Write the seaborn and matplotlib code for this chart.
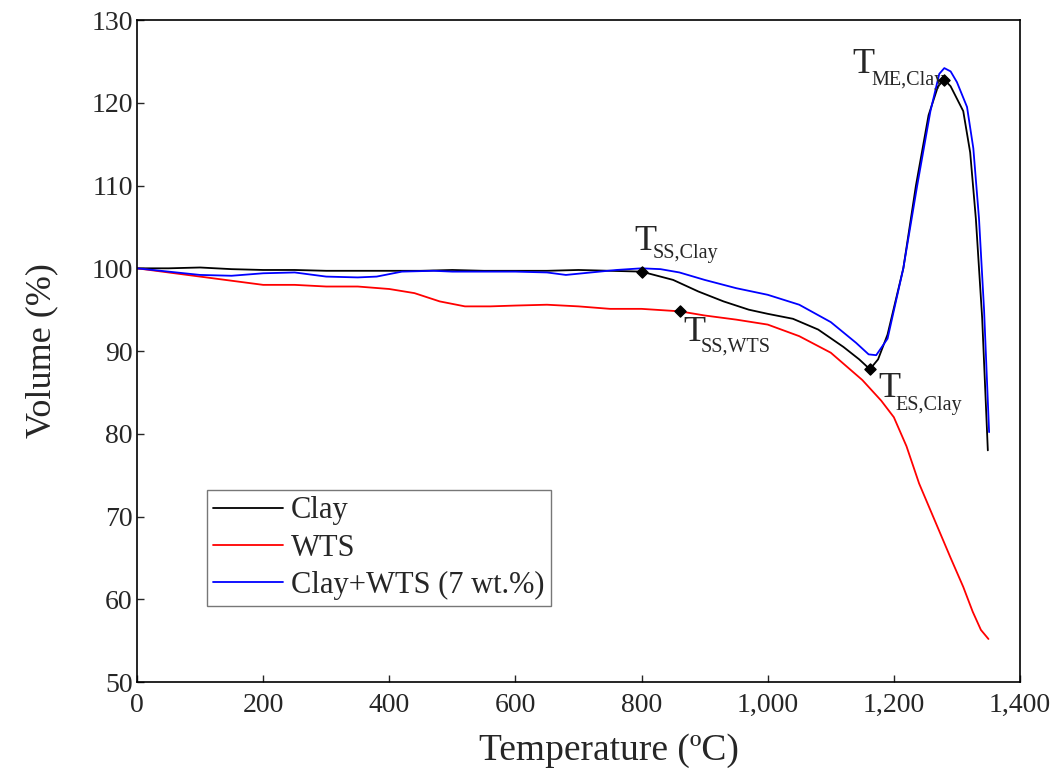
import matplotlib
matplotlib.use('Agg')
import matplotlib.pyplot as plt
import matplotlib.ticker as mticker
import pandas as pd
import seaborn as sns

# values
clay_T = [0, 50, 100, 150, 200, 250, 300, 350, 400, 450, 500, 550, 600, 650, 700, 750, 800,
          850, 890, 930, 970, 1000, 1040, 1080, 1120, 1145, 1162, 1175, 1190, 1215, 1235,
          1255, 1270, 1280, 1290, 1300, 1310, 1321, 1330, 1340, 1349]
clay_V = [100, 100, 100.1, 99.9, 99.8, 99.8, 99.7, 99.7, 99.7, 99.7, 99.8, 99.7, 99.7, 99.7,
          99.8, 99.7, 99.6, 98.6, 97.2, 96.0, 95.0, 94.5, 93.9, 92.6, 90.5, 89.0, 87.8, 89.0,
          92.0, 100.0, 110.0, 118.5, 122.0, 122.8, 122.0, 120.5, 119.0, 114.0, 106.0, 94.0, 78.0]

wts_T = [0, 50, 100, 150, 200, 250, 300, 350, 400, 440, 480, 520, 560, 600, 650, 700, 750,
         800, 861, 900, 950, 1000, 1050, 1100, 1150, 1180, 1200, 1220, 1240, 1265, 1290,
         1310, 1325, 1338, 1350]
wts_V = [100, 99.5, 99.0, 98.5, 98.0, 98.0, 97.8, 97.8, 97.5, 97.0, 96.0, 95.4, 95.4, 95.5,
         95.6, 95.4, 95.1, 95.1, 94.8, 94.3, 93.8, 93.2, 91.8, 89.8, 86.5, 84.0, 82.0, 78.5,
         74.0, 69.5, 65.0, 61.5, 58.5, 56.3, 55.2]

mix_T = [0, 50, 100, 150, 200, 250, 300, 350, 380, 420, 470, 500, 550, 600, 650, 680, 720,
         760, 800, 830, 860, 900, 950, 1000, 1050, 1100, 1140, 1160, 1172, 1190, 1215, 1237,
         1258, 1272, 1280, 1290, 1300, 1316, 1326, 1335, 1343, 1351]
mix_V = [100, 99.6, 99.2, 99.1, 99.4, 99.5, 99.0, 98.9, 99.0, 99.6, 99.7, 99.6, 99.6, 99.6,
         99.5, 99.2, 99.5, 99.8, 100.0, 99.9, 99.5, 98.6, 97.6, 96.8, 95.6, 93.5, 91.0, 89.6,
         89.5, 91.5, 100.0, 110.0, 119.0, 123.5, 124.2, 123.8, 122.5, 119.5, 114.5, 106.0,
         95.0, 80.2]

series_names = ['Clay', 'WTS', 'Clay+WTS (7 wt.%)']

pt_T = [800, 861, 1162, 1280]
pt_V = [99.6, 94.8, 87.8, 122.8]
pt_subs = ['SS,Clay', 'SS,WTS', 'ES,Clay', 'ME,Clay']
# label offsets (data units) for the "T" and for its subscript
t_off = [(-11, 2.6), (5, -3.6), (13, -3.4), (-146, 0.8)]
s_off = [(17, 1.6), (33, -4.9), (41, -4.9), (-115, -0.7)]

df = pd.concat([
    pd.DataFrame({'T': clay_T, 'V': clay_V, 'name': series_names[0]}),
    pd.DataFrame({'T': wts_T, 'V': wts_V, 'name': series_names[1]}),
    pd.DataFrame({'T': mix_T, 'V': mix_V, 'name': series_names[2]}),
])

sns.set_style('white')
plt.rcParams['font.family'] = ['Liberation Serif', 'DejaVu Serif']

fig = plt.figure(figsize=(10.57, 7.73), dpi=100)
ax = fig.add_axes([0.1296, 0.1177, 0.8354, 0.8563])

sns.lineplot(data=df, x='T', y='V', hue='name', sort=False, estimator=None,
             palette=['black', 'red', 'blue'], linewidth=1.3, ax=ax)

ax.scatter(pt_T, pt_V, marker='D', s=32, color='black', zorder=5)

for t, v, sub, (tx, ty), (sx, sy) in zip(pt_T, pt_V, pt_subs, t_off, s_off):
    ax.text(t + tx, v + ty, 'T', fontsize=26, ha='left', va='baseline')
    ax.text(t + sx, v + sy, sub, fontsize=14.5, ha='left', va='baseline')

ax.set_xlim(0, 1400)
ax.set_ylim(50, 130)
ax.xaxis.set_major_locator(mticker.MultipleLocator(200))
ax.yaxis.set_major_locator(mticker.MultipleLocator(10))
ax.xaxis.set_major_formatter(mticker.FuncFormatter(lambda x, p: f'{int(x):,}'))
ax.tick_params(direction='in', length=5, width=1, labelsize=20, bottom=True, left=True)
ax.tick_params(axis='x', pad=8)
ax.tick_params(axis='y', pad=3)

for s in ax.spines.values():
    s.set_color('black')
    s.set_linewidth(1.2)

ax.set_xlabel('Temperature (ºC)', fontsize=27)
ax.xaxis.set_label_coords(0.534, -0.077)
ax.set_ylabel('Volume (%)', fontsize=26, labelpad=24)

leg = ax.legend(title=None, loc='lower left', bbox_to_anchor=(0.0793, 0.1148),
                fontsize=22, frameon=True, fancybox=False, borderpad=0.2,
                labelspacing=0.27, handlelength=2.3, handletextpad=0.25, borderaxespad=0)
leg.get_frame().set_edgecolor('#555555')
leg.get_frame().set_linewidth(1.0)

fig.savefig('out.png', dpi=100)
